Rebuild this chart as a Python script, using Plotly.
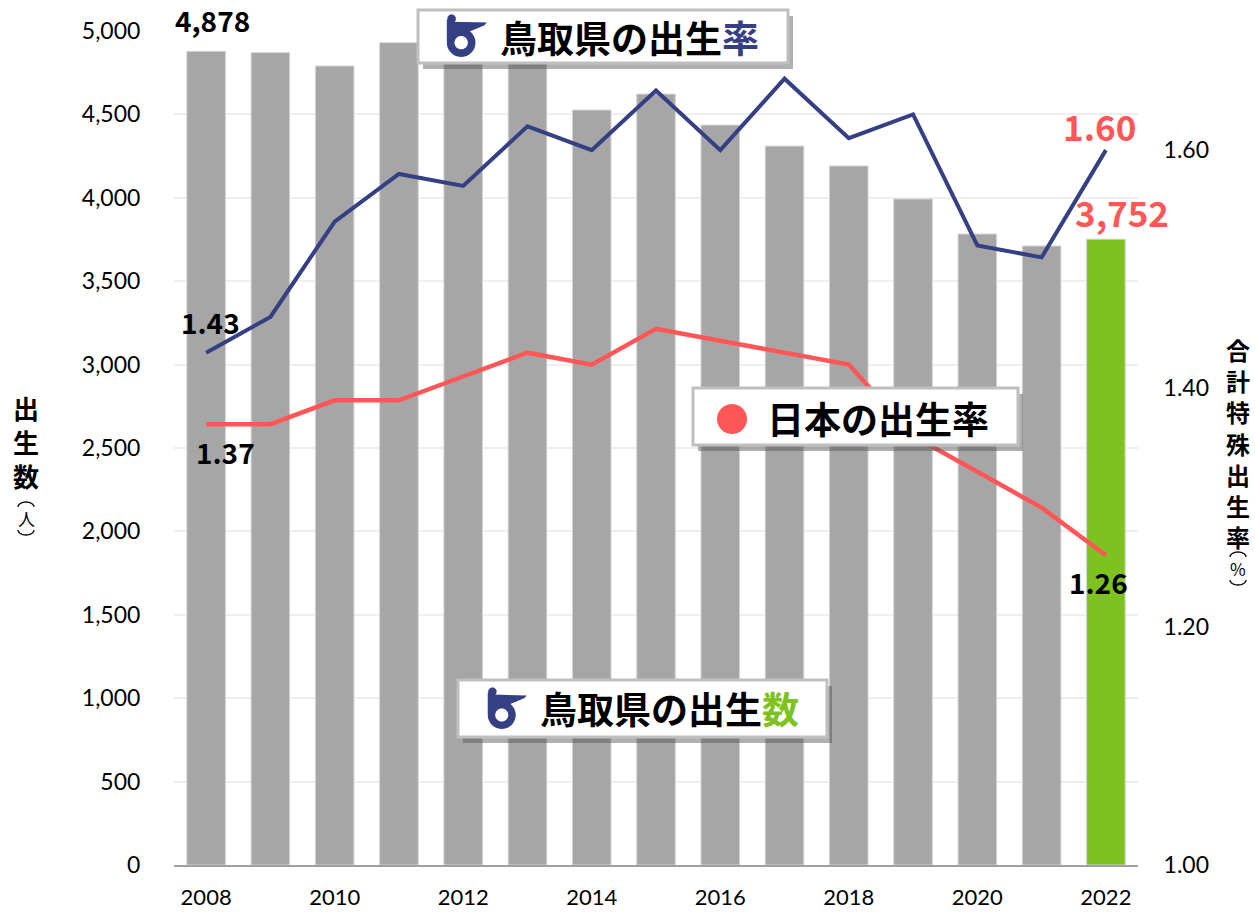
import math
import plotly.graph_objects as go

years = list(range(2008, 2023))
births = [4878, 4870, 4790, 4930, 4870, 4850, 4526, 4622, 4436, 4310, 4191, 3993, 3783, 3711, 3752]
tottori_rate = [1.43, 1.46, 1.54, 1.58, 1.57, 1.62, 1.60, 1.65, 1.60, 1.66, 1.61, 1.63, 1.52, 1.51, 1.60]
japan_rate = [1.37, 1.37, 1.39, 1.39, 1.41, 1.43, 1.42, 1.45, 1.44, 1.43, 1.42, 1.36, 1.33, 1.30, 1.26]
xticks = [2008, 2010, 2012, 2014, 2016, 2018, 2020, 2022]
left_ticks = list(range(0, 5001, 500))
right_ticks = [1.00, 1.20, 1.40, 1.60]

GRAY = "#a6a6a6"
GREEN = "#7dc21e"
NAVY = "#353f84"
RED = "#ff5757"

W, H = 1255, 913
L, R, T, B = 174, 1138, 31, 865


def px(x):
    return (x - L) / (R - L)


def py(y):
    return (B - y) / (B - T)


bar_colors = [GRAY] * (len(years) - 1) + [GREEN]

fig = go.Figure()
fig.add_trace(go.Bar(x=years, y=births, marker_color=bar_colors,
                     marker_line_color="#d4d4d4", marker_line_width=1,
                     width=0.6, yaxis="y", hoverinfo="skip"))
fig.add_trace(go.Scatter(x=years, y=japan_rate, mode="lines", yaxis="y2",
                         line=dict(color=RED, width=4.5), hoverinfo="skip"))
fig.add_trace(go.Scatter(x=years, y=tottori_rate, mode="lines", yaxis="y2",
                         line=dict(color=NAVY, width=4), hoverinfo="skip"))

shapes = []
annotations = []


def box(x0, y0, x1, y1):
    shapes.append(dict(type="rect", xref="paper", yref="paper",
                       x0=px(x0 + 5), x1=px(x1 + 5), y0=py(y0 + 6), y1=py(y1 + 6),
                       fillcolor="rgba(80,80,80,0.45)", line_width=0, layer="above"))
    shapes.append(dict(type="rect", xref="paper", yref="paper",
                       x0=px(x0), x1=px(x1), y0=py(y0), y1=py(y1),
                       fillcolor="white", line=dict(color="#bfbfbf", width=3), layer="above"))


def circle_pts(cx, cy, r, n=40, rev=False):
    pts = [(cx + r * math.cos(2 * math.pi * k / n), cy + r * math.sin(2 * math.pi * k / n)) for k in range(n)]
    if rev:
        pts = pts[::-1]
    return pts


def poly_path(pts, close=True):
    return "M " + " L ".join(f"{px(x):.5f},{py(y):.5f}" for x, y in pts) + (" Z" if close else "")


def emblem(ox, oy, size):
    s = size / 45.0
    tr = lambda pts: [(ox + x * s, oy + y * s) for x, y in pts]
    ring = poly_path(tr(circle_pts(19, 30, 15))) + " " + poly_path(tr(circle_pts(19, 30, 7, rev=True)))
    shapes.append(dict(type="path", xref="paper", yref="paper", path=ring, fillcolor=NAVY,
                       fillrule="evenodd", line_width=0, layer="above"))
    stroke = tr([(4, 6), (12, 6), (12, 28), (4, 28)])
    shapes.append(dict(type="path", xref="paper", yref="paper", path=poly_path(stroke),
                       fillcolor=NAVY, line_width=0, layer="above"))
    head = tr(circle_pts(9, 5, 4.5, n=24))
    shapes.append(dict(type="path", xref="paper", yref="paper", path=poly_path(head),
                       fillcolor=NAVY, line_width=0, layer="above"))
    wing = tr([(8, 8), (46, 9), (43, 12), (24, 20), (8, 21)])
    shapes.append(dict(type="path", xref="paper", yref="paper", path=poly_path(wing),
                       fillcolor=NAVY, line_width=0, layer="above"))


def arc(cx, cy, w, h, up=True):
    n = 16
    pts = []
    for k in range(n + 1):
        t = math.pi * k / n
        x = cx - w / 2 * math.cos(t)
        y = cy - h * math.sin(t) if up else cy + h * math.sin(t)
        pts.append((x, y))
    shapes.append(dict(type="path", xref="paper", yref="paper", path=poly_path(pts, close=False),
                       line=dict(color="black", width=1.3), layer="above"))


def label(xp, yp, text, font):
    annotations.append(dict(xref="paper", yref="paper", x=px(xp), y=py(yp), text=text,
                            showarrow=False, xanchor="center", yanchor="middle", font=font))


JP = "Noto Sans CJK JP"
boxfont = dict(family=JP, size=37, color="black", weight="bold")

# Box 1: Tottori rate
box(418, 10, 788, 63)
emblem(443, 14, 43)
label(629, 37, f"鳥取県の出生<span style='color:{NAVY}'>率</span>", boxfont)
# Box 2: Tottori births
box(458, 680, 827, 737)
emblem(484, 687, 42)
label(669, 708, f"鳥取県の出生<span style='color:{GREEN}'>数</span>", boxfont)
# Box 3: Japan rate
box(693, 388, 1018, 445)
shapes.append(dict(type="path", xref="paper", yref="paper",
                   path=poly_path(circle_pts(732, 419, 15)), fillcolor=RED, line_width=0, layer="above"))
label(878, 418, "日本の出生率", boxfont)

# Data labels
lab_black = dict(family=JP, size=28, color="black", weight="bold")
lab_red = dict(family=JP, size=35, color=RED, weight="bold")
annotations += [
    dict(x=years[0], y=births[0], xref="x", yref="y", text=f"{births[0]:,}", showarrow=False,
         font=lab_black, xshift=6, yshift=31),
    dict(x=years[0], y=tottori_rate[0], xref="x", yref="y2", text=f"{tottori_rate[0]:.2f}", showarrow=False,
         font=lab_black, xshift=4, yshift=31),
    dict(x=years[0], y=japan_rate[0], xref="x", yref="y2", text=f"{japan_rate[0]:.2f}", showarrow=False,
         font=lab_black, xshift=19, yshift=-28),
    dict(x=years[-1], y=japan_rate[-1], xref="x", yref="y2", text=f"{japan_rate[-1]:.2f}", showarrow=False,
         font=lab_black, xshift=-7, yshift=-27),
    dict(x=years[-1], y=tottori_rate[-1], xref="x", yref="y2", text=f"{tottori_rate[-1]:.2f}", showarrow=False,
         font=lab_red, xshift=-6, yshift=25),
    dict(x=years[-1], y=births[-1], xref="x", yref="y", text=f"{births[-1]:,}", showarrow=False,
         font=lab_red, xshift=16, yshift=28),
]

# Axis titles (vertical)
label(26, 441, "出<br>生<br>数", dict(family=JP, size=26, color="black", weight="bold"))
label(26, 518, "人", dict(family=JP, size=17, color="black"))
arc(26, 507, 16, 5, up=True)
arc(26, 530, 16, 5, up=False)

label(1238, 443, "合<br>計<br>特<br>殊<br>出<br>生<br>率", dict(family=JP, size=24, color="black", weight="bold"))
label(1238, 568, "%", dict(family=JP, size=17, color="black"))
arc(1238, 557, 16, 5, up=True)
arc(1238, 580, 16, 5, up=False)

tickfont = dict(family="Lato", size=23, color="black")
fig.update_layout(
    width=W, height=H,
    margin=dict(l=L, r=W - R, t=T, b=H - B, autoexpand=False),
    paper_bgcolor="white", plot_bgcolor="white",
    showlegend=False, bargap=0.4,
    xaxis=dict(range=[2007.5, 2022.5], tickvals=xticks, ticktext=[str(v) for v in xticks],
               showgrid=False, showline=True, linecolor="#a0a0a0", linewidth=2,
               ticks="outside", ticklen=12, tickcolor="rgba(0,0,0,0)",
               tickfont=dict(family="Lato", size=22, color="black"), zeroline=False),
    yaxis=dict(range=[0, 5000], tickvals=left_ticks, tickformat=",", showgrid=True,
               gridcolor="#efefef", gridwidth=1.5, zeroline=False, showline=False,
               ticks="outside", ticklen=28, tickcolor="rgba(0,0,0,0)", tickfont=tickfont),
    yaxis2=dict(range=[1.0, 1.7], tickvals=right_ticks, tickformat=".2f", overlaying="y", side="right",
                showgrid=False, zeroline=False, showline=False,
                ticks="outside", ticklen=20, tickcolor="rgba(0,0,0,0)", tickfont=tickfont),
    shapes=shapes, annotations=annotations,
)

fig.write_html("out.html", config={"displayModeBar": False},
               post_script="document.body.style.margin='0';document.body.style.padding='0';")
